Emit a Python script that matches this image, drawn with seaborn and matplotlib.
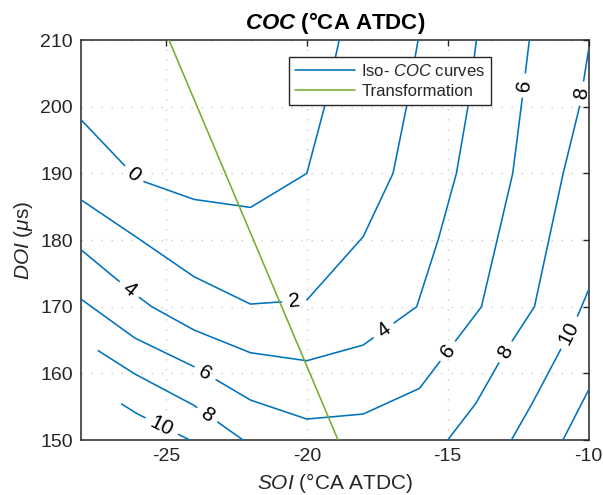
import numpy as np
import pandas as pd
import matplotlib
matplotlib.use("Agg")
import matplotlib.pyplot as plt
from matplotlib.lines import Line2D
import seaborn as sns

# ---------------- data ----------------
# iso-COC curves: SOI (°CA ATDC) vs DOI (µs)
coc0_soi = [-28.0, -26.0, -24.0, -22.0, -20.0, -19.37, -18.85]
coc0_doi = [198.0, 189.1, 186.1, 184.9, 190.0, 200.0, 210.0]

coc2_soi = [-28.0, -26.0, -24.0, -22.0, -20.0, -18.0, -16.94, -16.46, -16.05]
coc2_doi = [186.0, 180.3, 174.5, 170.4, 171.0, 180.5, 190.0, 200.0, 210.0]

coc4_soi = [-28.0, -26.2, -25.5, -24.0, -22.0, -20.0, -18.0, -16.1, -15.34, -14.69, -14.28, -13.98]
coc4_doi = [178.5, 172.2, 170.0, 166.5, 163.1, 161.9, 164.25, 170.0, 180.0, 190.0, 200.0, 210.0]

coc6_soi = [-28.0, -26.1, -24.0, -22.0, -20.0, -18.0, -16.0, -13.8, -12.69, -12.39, -12.1]
coc6_doi = [171.1, 165.3, 161.0, 156.0, 153.15, 153.9, 157.75, 170.0, 190.0, 200.0, 210.0]

coc8a_soi = [-27.4, -26.1, -24.0, -22.26]
coc8a_doi = [163.4, 159.9, 155.2, 150.0]
coc8b_soi = [-15.0, -14.0, -12.95, -11.92, -10.9, -10.32, -10.0]
coc8b_doi = [150.0, 155.5, 163.3, 170.0, 190.0, 200.0, 208.5]

coc10a_soi = [-26.57, -26.0, -24.15]
coc10a_doi = [155.4, 153.9, 150.0]
coc10b_soi = [-12.74, -12.0, -11.0, -10.35, -10.0]
coc10b_doi = [150.0, 155.5, 163.5, 169.0, 172.5]

coc12_soi = [-10.91, -10.0]
coc12_doi = [150.0, 157.5]

curves = {
    "0": (coc0_soi, coc0_doi), "2": (coc2_soi, coc2_doi),
    "4": (coc4_soi, coc4_doi), "6": (coc6_soi, coc6_doi),
    "8a": (coc8a_soi, coc8a_doi), "8b": (coc8b_soi, coc8b_doi),
    "10a": (coc10a_soi, coc10a_doi), "10b": (coc10b_soi, coc10b_doi),
    "12": (coc12_soi, coc12_doi),
}

# contour labels: curve, text, approximate location
label_curve = ["0", "2", "4", "4", "6", "6", "6", "8a", "8b", "8b", "10a", "10b"]
label_text = ["0", "2", "4", "4", "6", "6", "6", "8", "8", "8", "10", "10"]
label_soi = [-26.1, -20.45, -26.3, -17.3, -23.6, -15.05, -12.33, -23.5, -12.98, -10.26, -25.15, -10.73]
label_doi = [190.0, 171.2, 172.6, 166.6, 160.1, 163.5, 203.2, 154.0, 163.3, 202.0, 152.1, 166.2]

# transformation line
transf_soi = [-24.89, -18.89]
transf_doi = [210.0, 150.0]

xticks = [-25, -20, -15, -10]
yticks = [150, 160, 170, 180, 190, 200, 210]

# ---------------- style ----------------
sns.set_theme(style="white")
plt.rcParams["font.family"] = ["Liberation Sans", "DejaVu Sans"]
plt.rcParams["mathtext.fontset"] = "custom"
plt.rcParams["mathtext.rm"] = "Liberation Sans"
plt.rcParams["mathtext.it"] = "Liberation Sans:italic"
plt.rcParams["mathtext.bf"] = "Liberation Sans:bold"
plt.rcParams["mathtext.bfit"] = "Liberation Sans:italic:bold"
plt.rcParams["axes.unicode_minus"] = False

BLUE = "#0072BD"
GREEN = "#77AC30"
DARK = "#262626"
LABEL_FS = 15
LW = 1.15

fig = plt.figure(figsize=(6.03, 4.95), dpi=100)
ax = fig.add_axes([0.135, 0.111, 0.841, 0.808])
ax.set_xlim(-28, -10)
ax.set_ylim(150, 210)

# ---------------- contour curves with label gaps ----------------
trans = ax.transData
inv = trans.inverted()
fs_px = LABEL_FS * fig.dpi / 72.0


def interp_at(P, s, t):
    return np.array([np.interp(t, s, P[:, 0]), np.interp(t, s, P[:, 1])])


rows = []
texts = []
piece = 0
for key, (xs, ys) in curves.items():
    D = np.column_stack([xs, ys]).astype(float)
    P = trans.transform(D)
    seg = np.diff(P, axis=0)
    s = np.concatenate([[0], np.cumsum(np.hypot(seg[:, 0], seg[:, 1]))])
    gaps = []
    for c, t, lx, ly in zip(label_curve, label_text, label_soi, label_doi):
        if c != key:
            continue
        q = trans.transform([[lx, ly]])[0]
        best = None
        for i in range(len(P) - 1):
            a, b = P[i], P[i + 1]
            ab = b - a
            u = np.clip(np.dot(q - a, ab) / np.dot(ab, ab), 0, 1)
            pr = a + u * ab
            d = np.hypot(*(q - pr))
            if best is None or d < best[0]:
                best = (d, s[i] + u * (s[i + 1] - s[i]))
        s0 = best[1]
        half = len(t) * 0.556 * fs_px / 2 + 7
        pa = interp_at(P, s, s0 - half)
        pb = interp_at(P, s, s0 + half)
        ang = np.degrees(np.arctan2(pb[1] - pa[1], pb[0] - pa[0]))
        if ang > 90:
            ang -= 180
        if ang <= -90:
            ang += 180
        centre = inv.transform([interp_at(P, s, s0)])[0]
        texts.append((t, centre, ang))
        gaps.append((s0 - half, s0 + half))
    gaps.sort()
    keep = []
    start = 0.0
    for g0, g1 in gaps:
        keep.append((start, max(g0, 0)))
        start = g1
    keep.append((start, s[-1]))
    for a0, a1 in keep:
        if a1 <= a0:
            continue
        ss = [a0] + [v for v in s if a0 < v < a1] + [a1]
        for v in ss:
            pt = inv.transform([interp_at(P, s, v)])[0]
            rows.append({"soi": pt[0], "doi": pt[1], "piece": piece})
        piece += 1

df = pd.DataFrame(rows)
sns.lineplot(data=df, x="soi", y="doi", units="piece", estimator=None,
             sort=False, color=BLUE, lw=LW, legend=False, ax=ax, zorder=3)

for t, (cx, cy), ang in texts:
    ax.text(cx, cy, t, fontsize=LABEL_FS, ha="center", va="center",
            rotation=ang, rotation_mode="anchor", color="black", zorder=4)

sns.lineplot(x=transf_soi, y=transf_doi, color=GREEN, lw=LW, ax=ax,
             sort=False, estimator=None, legend=False, zorder=5)

# ---------------- axes styling ----------------
ax.set_xlim(-28, -10)
ax.set_ylim(150, 210)
ax.set_xticks(xticks)
ax.set_yticks(yticks)
ax.grid(True, color="#c8c8c8", linestyle=(0, (1, 6.2)), lw=1.0, zorder=0)
ax.tick_params(direction="in", top=True, right=True, length=4.5, width=1.0,
               colors=DARK, labelsize=14, pad=6)
for sp in ax.spines.values():
    sp.set_color(DARK)
    sp.set_linewidth(1.1)
    sp.set_visible(True)

ax.set_xlabel(r"$\mathit{SOI}$ (°CA ATDC)", fontsize=15, color=DARK, labelpad=4)
ax.set_ylabel(r"$\mathit{DOI}$ ($\mu$s)", fontsize=15, color=DARK, labelpad=4)
ax.set_title(r"$\mathbfit{COC}$ (°CA ATDC)", fontsize=16, fontweight="bold",
             color="black", pad=8)

handles = [Line2D([], [], color=BLUE, lw=LW), Line2D([], [], color=GREEN, lw=LW)]
leg = ax.legend(handles, [r"Iso- $\mathit{COC}$ curves", "Transformation"],
                loc="upper right", bbox_to_anchor=(0.808, 0.9575),
                borderaxespad=0, fancybox=False, framealpha=1, edgecolor=DARK,
                fontsize=12, handlelength=3.6, handletextpad=0.35,
                labelspacing=0.3, borderpad=0.35)
leg.get_frame().set_linewidth(1.0)
leg.set_zorder(10)

fig.savefig("out.png", dpi=100)
